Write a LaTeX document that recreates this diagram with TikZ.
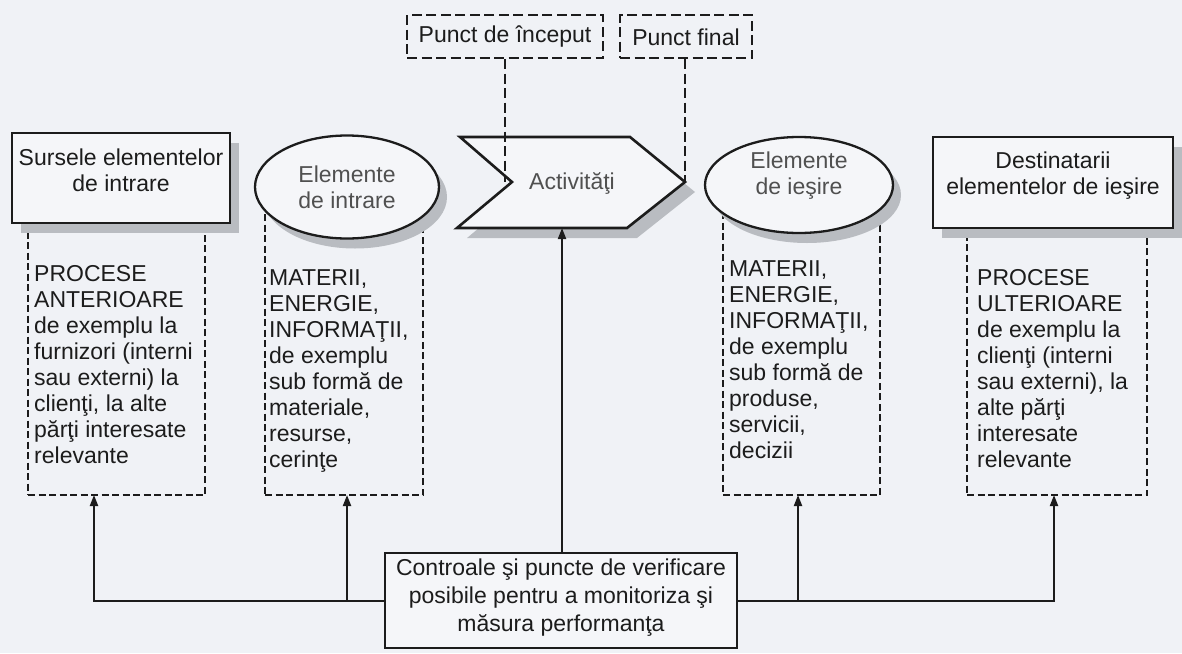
\documentclass[tikz,border=0pt]{standalone}
\usepackage{fontspec}
\setmainfont{Liberation Sans}
\usetikzlibrary{arrows.meta,shapes.geometric,shadows}
\definecolor{bg}{RGB}{240,242,246}
\definecolor{fillc}{RGB}{245,246,249}
\definecolor{ink}{RGB}{28,28,28}
\definecolor{softink}{RGB}{80,80,80}
\definecolor{shad}{RGB}{185,188,193}
\tikzset{
  txt/.style={font=\fontsize{23}{26}\selectfont, text=ink, inner sep=0pt},
  solidbox/.style={draw=ink, line width=2.8pt, fill=fillc, rectangle, inner sep=0pt,
    drop shadow={shadow xshift=9pt, shadow yshift=-10pt, fill=shad, opacity=1}},
  ellbox/.style={draw=ink, line width=2.3pt, fill=fillc, ellipse, inner sep=0pt,
    drop shadow={shadow xshift=8pt, shadow yshift=-10pt, fill=shad, opacity=1}},
  dbox/.style={draw=ink, line width=2.2pt, dash pattern=on 7pt off 3.5pt, rectangle, inner sep=0pt},
  pbox/.style={draw=ink, line width=2.3pt, dash pattern=on 10pt off 4.5pt, rectangle, inner sep=0pt, fill=bg},
  dline/.style={draw=ink, line width=2.2pt, dash pattern=on 10pt off 4.5pt},
  conn/.style={draw=ink, line width=2pt},
  arr/.style={conn, -{Triangle[length=11pt,width=8pt]}},
}
\begin{document}
\begin{tikzpicture}[x=1pt,y=-1pt]
\fill[bg] (0,0) rectangle (1182,653);
\useasboundingbox (0,0) rectangle (1182,653);

% dashed boxes (behind the shapes)
\node[dbox, minimum width=177pt, minimum height=317pt] (d1) at (116.5,336.5) {};
\node[dbox, minimum width=158pt, minimum height=308pt] (d2) at (344,341) {};
\node[dbox, minimum width=157pt, minimum height=310pt] (d3) at (801.5,340) {};
\node[dbox, minimum width=180pt, minimum height=313pt] (d4) at (1057,338.5) {};

% top shapes
\node[solidbox, minimum width=218pt, minimum height=90pt] (s1) at (121,178) {};
\node[txt, align=center] (s1t) at (121,170) {Sursele elementelor\\de intrare};

\node[ellbox, minimum width=184pt, minimum height=103pt] (e1) at (347,187) {};
\node[txt, align=center, text=softink] (e1t) at (347,187) {Elemente\\de intrare};

\coordinate (notch) at (512,182);
\coordinate (tip) at (685,182);
\path[draw=ink, line width=2.6pt, fill=fillc,
  drop shadow={shadow xshift=10pt, shadow yshift=-10pt, fill=shad, opacity=1}]
  (460,137) -- (630,137) -- (tip) -- (627,228) -- (457,228) -- (notch) -- cycle;
\node[txt, text=softink] (act) at (572,183) {Activităţi};
\coordinate (actbot) at (562,228);

\node[ellbox, minimum width=188pt, minimum height=96pt] (e2) at (799,185) {};
\node[txt, align=center, text=softink] (e2t) at (799,176) {Elemente\\de ieşire};

\node[solidbox, minimum width=240pt, minimum height=91pt] (s2) at (1053,182.5) {};
\node[txt, align=center] (s2t) at (1053,175.5) {Destinatarii\\elementelor de ieşire};

% texts of dashed boxes
\node[txt, align=left, anchor=north west] (d1t) at (34,265)
 {PROCESE\\ANTERIOARE\\de exemplu la\\furnizori (interni\\sau externi) la\\clienţi, la alte\\părţi interesate\\relevante};
\node[txt, align=left, anchor=north west] (d2t) at (269,269)
 {MATERII,\\ENERGIE,\\INFORMAŢII,\\de exemplu\\sub formă de\\materiale,\\resurse,\\cerinţe};
\node[txt, align=left, anchor=north west] (d3t) at (729,260)
 {MATERII,\\ENERGIE,\\INFORMAŢII,\\de exemplu\\sub formă de\\produse,\\servicii,\\decizii};
\node[txt, align=left, anchor=north west] (d4t) at (977,269)
 {PROCESE\\ULTERIOARE\\de exemplu la\\clienţi (interni\\sau externi), la\\alte părţi\\interesate\\relevante};

% start / end points
\node[pbox, minimum width=196pt, minimum height=43pt] (p1) at (505,36.5) {};
\node[txt] (p1t) at (505,37) {Punct de început};
\node[pbox, minimum width=132pt, minimum height=43pt] (p2) at (686,36.5) {};
\node[txt] (p2t) at (686,37) {Punct final};
\draw[dline] (p1.south) -- (p1.south |- notch);
\draw[dline] (p2.south -| tip) -- (tip);

% controls
\node[draw=ink, line width=2.2pt, fill=fillc, rectangle, inner sep=0pt,
  minimum width=352pt, minimum height=95pt] (ctrl) at (561,600.5) {};
\node[txt, align=center, font=\fontsize{23}{28}\selectfont] (ctrlt) at (561,598)
 {Controale şi puncte de verificare\\posibile pentru a monitoriza şi\\măsura performanţa};

\coordinate (a1) at (94,495);
\coordinate (a2) at (347,495);
\coordinate (a3) at (798,495);
\coordinate (a4) at (1054,495);
\draw[arr] (ctrl.west) -| (a1);
\draw[arr] (ctrl.west -| a2) -- (a2);
\draw[arr] (ctrl.east) -| (a4);
\draw[arr] (ctrl.east -| a3) -- (a3);
\draw[arr] (ctrl.north -| actbot) -- (actbot);
\end{tikzpicture}
\end{document}
